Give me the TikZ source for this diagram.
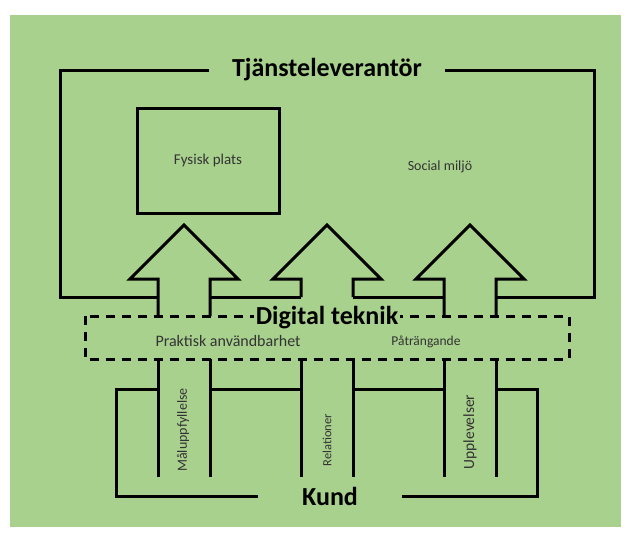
\documentclass[tikz,border=0pt]{standalone}
\usepackage{fontspec}
\setmainfont{Carlito}
\usepackage{tikz}
\definecolor{bggreen}{RGB}{169,209,142}

\begin{document}
\begin{tikzpicture}[x=1pt,y=-1pt,line width=3pt,
    big/.style={font=\fontsize{26}{28}\selectfont\bfseries},
    small/.style={font=\fontsize{#1}{16}\selectfont,text=black!80},
    small/.default=13]
       \useasboundingbox (0,0) rectangle (630,536);
       \fill[bggreen] (10,15) rectangle (621,527);
       \node[big,inner xsep=22pt] (lev) at (327,70) {Tjänsteleverantör};
       \draw (lev.west) -- (60,70) -- (60,297) -- (158,297);
       \draw (lev.east) -- (594,70) -- (594,297) -- (496,297);
       \draw (210,297) -- (301,297) (353,297) -- (444,297);
       \node[draw,small=15,minimum width=142,minimum height=105] (plats) at (208,160.5) {Fysisk plats};
       \node[small=14] (social) at (440,167) {Social miljö};
       \foreach \c/\b in {184/316,327/297,470/316}
       {
         \draw (\c-26,\b) -- (\c-26,279) -- (\c-54,279) -- (\c,225) -- (\c+54,279) -- (\c+26,279) -- (\c+26,\b);
         \draw (\c-26,359) -- (\c-26,477) (\c+26,359) -- (\c+26,477);
       }
       \draw[dash pattern=on 9pt off 7pt] (85,316) rectangle (569,359);
       \node[big,fill=bggreen,inner sep=2pt] (digital) at (327,318) {Digital teknik};
       \node[small=16] (praktisk) at (228,341) {Praktisk användbarhet};
       \node[small=13.5] (patr) at (426,342) {Påträngande};
       \node[small=14,rotate=90] (mal) at (183,430) {Måluppfyllelse};
       \node[small=12.5,rotate=90] (rel) at (327,440) {Relationer};
       \node[small=15.5,rotate=90] (uppl) at (470,432) {Upplevelser};
       \node[big,inner xsep=43pt] (kund) at (330,496) {Kund};
       \draw (kund.west) -- (116,496) -- (116,389) -- (158,389);
       \draw (kund.east) -- (537,496) -- (537,389) -- (496,389);
       \draw (210,389) -- (301,389) (353,389) -- (444,389);
     \end{tikzpicture}
\end{document}
